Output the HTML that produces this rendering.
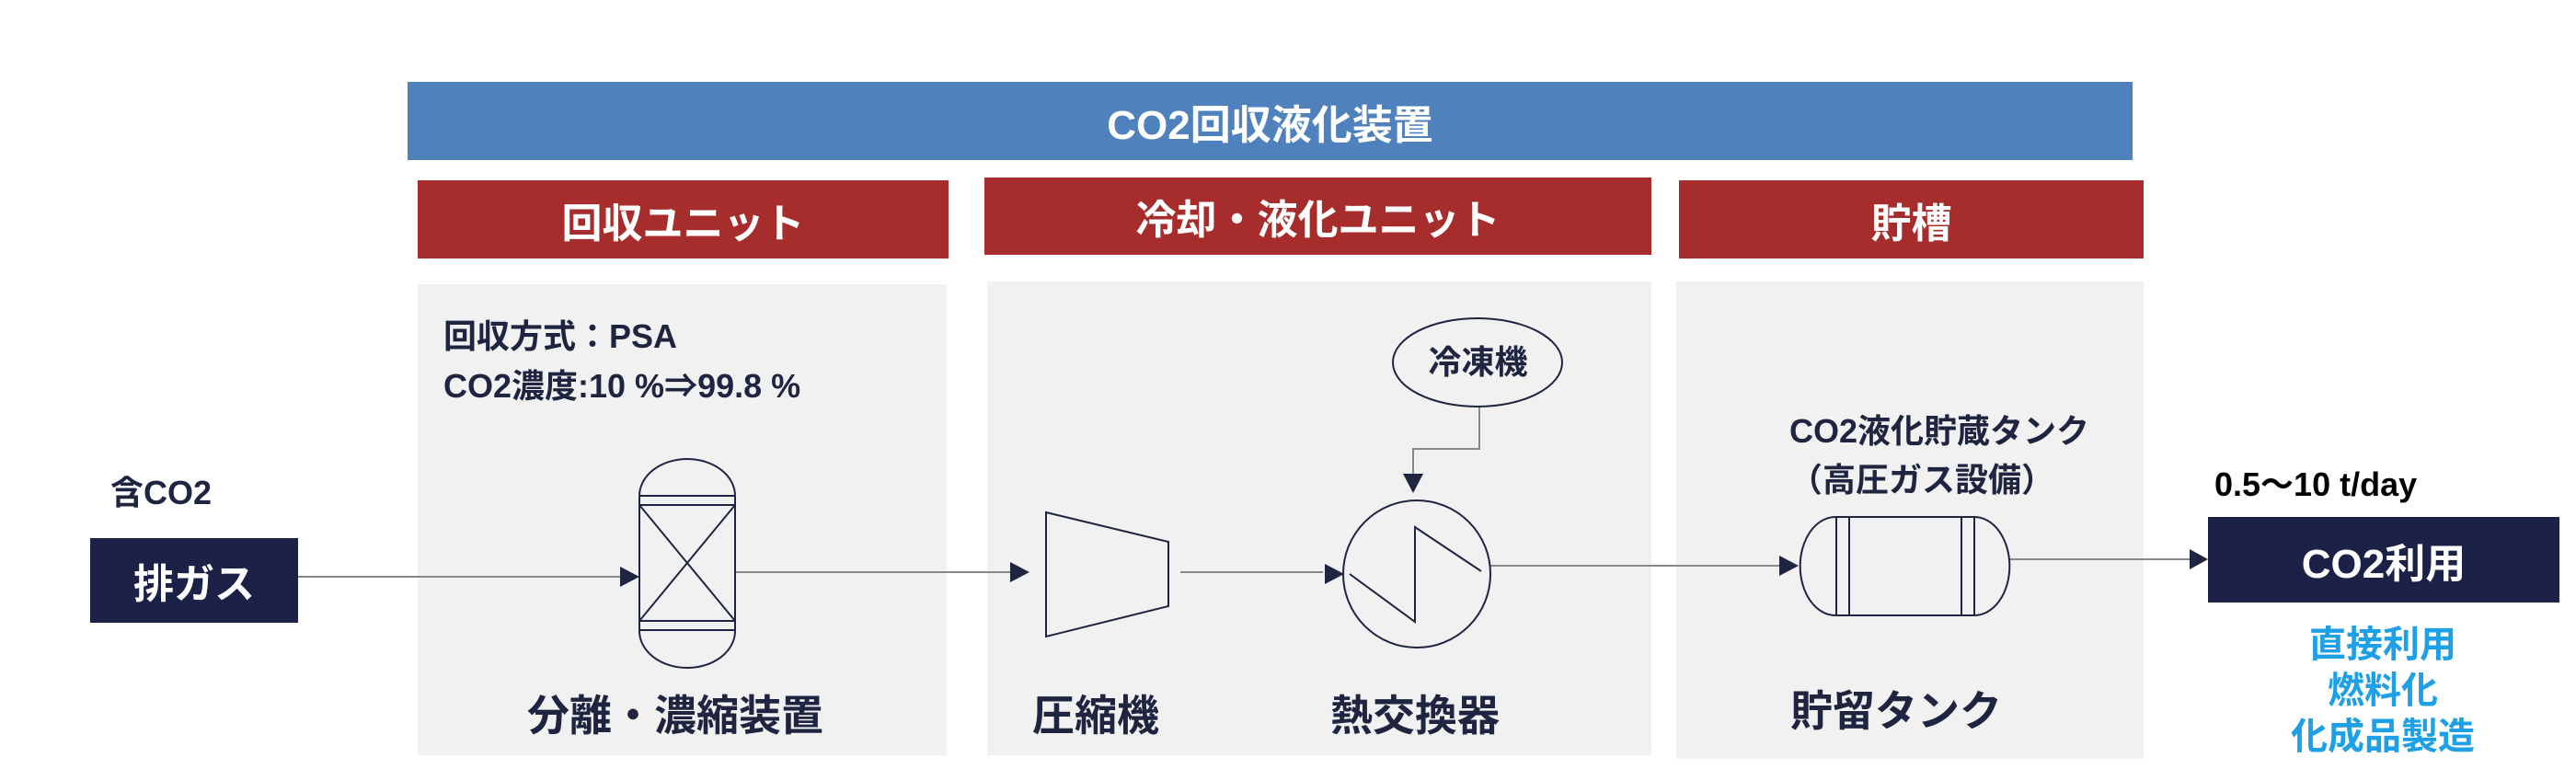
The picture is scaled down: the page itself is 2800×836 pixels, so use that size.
<!DOCTYPE html>
<html><head><meta charset="utf-8"><style>
body{margin:0;width:2800px;height:836px;background:#fff;overflow:hidden;position:relative;font-family:"Liberation Sans","Noto Sans CJK JP",sans-serif;font-weight:bold;color:#1f2540}
.a{position:absolute}
.c{display:flex;align-items:center;justify-content:center;color:#fff}
.t{position:absolute;white-space:nowrap;line-height:1}
</style></head><body>
<div class="a c" style="left:443px;top:89px;width:1875px;height:85px;background:#4f81bd;font-size:44px">CO2回収液化装置</div>
<div class="a c" style="left:454px;top:196px;width:577px;height:85px;background:#a62d2b;font-size:44px">回収ユニット</div>
<div class="a c" style="left:1070px;top:193px;width:725px;height:84px;background:#a62d2b;font-size:44px">冷却・液化ユニット</div>
<div class="a c" style="left:1825px;top:196px;width:505px;height:85px;background:#a62d2b;font-size:44px">貯槽</div>
<div class="a" style="left:454px;top:309px;width:575px;height:512px;background:#f1f1f1"></div>
<div class="a" style="left:1073px;top:306px;width:722px;height:515px;background:#f1f1f1"></div>
<div class="a" style="left:1822px;top:306px;width:508px;height:519px;background:#f1f1f1"></div>
<div class="t" style="left:482px;top:348px;font-size:36px">回収方式：PSA</div>
<div class="t" style="left:482px;top:402px;font-size:36px">CO2濃度:10 %⇒99.8 %</div>
<div class="t" style="left:120px;top:518px;font-size:36px">含CO2</div>
<div class="a c" style="left:98px;top:585px;width:226px;height:92px;background:#1c2147;font-size:44px">排ガス</div>
<div class="a c" style="left:2400px;top:562px;width:382px;height:93px;background:#1c2147;font-size:44px">CO2利用</div>
<div class="t" style="left:2407px;top:509px;font-size:36px;color:#000">0.5〜10 t/day</div>
<div class="t" style="left:2480px;top:676px;width:220px;text-align:center;font-size:40px;color:#1ea0e6;line-height:50px">直接利用<br>燃料化<br>化成品製造</div>
<div class="t" style="left:1945px;top:442px;width:250px;text-align:center;font-size:36px;line-height:53px">CO2液化貯蔵タンク<br>（高圧ガス設備）</div>
<div class="t" style="left:573px;top:755px;font-size:46px">分離・濃縮装置</div>
<div class="t" style="left:1122px;top:755px;font-size:46px">圧縮機</div>
<div class="t" style="left:1446px;top:755px;font-size:46px">熱交換器</div>
<div class="t" style="left:1946px;top:750px;font-size:46px">貯留タンク</div>
<div class="t" style="left:1514px;top:376px;width:185px;text-align:center;font-size:36px">冷凍機</div>
<svg class="a" style="left:0;top:0" width="2800" height="836">
<g fill="none" stroke="#1f2540" stroke-width="2">
<line x1="324" y1="627" x2="686" y2="627" stroke="#888"/>
<line x1="799" y1="622" x2="1107" y2="622" stroke="#888"/>
<line x1="1283" y1="622" x2="1438" y2="622" stroke="#888"/>
<line x1="1620" y1="615" x2="1943" y2="615" stroke="#888"/>
<line x1="2184" y1="608" x2="2388" y2="608" stroke="#888"/>
<polyline points="1608,442 1608,488 1536,488 1536,522" stroke="#888"/>
<path d="M695,539 A52,40 0 0 1 799,539 L799,686 A52,40 0 0 1 695,686 Z"/>
<line x1="695" y1="539" x2="799" y2="539"/><line x1="695" y1="549" x2="799" y2="549"/>
<line x1="695" y1="675" x2="799" y2="675"/><line x1="695" y1="685" x2="799" y2="685"/>
<line x1="695" y1="549" x2="799" y2="675"/><line x1="799" y1="549" x2="695" y2="675"/>
<polygon points="1137,557 1270,589 1270,659 1137,692"/>
<circle cx="1540" cy="624" r="80"/>
<polyline points="1467,624 1538,676 1538,573 1610,621"/>
<ellipse cx="1606" cy="394" rx="92" ry="48"/>
<path d="M1995,562 L2146,562 A38,53 0 0 1 2146,669 L1995,669 A38,53 0 0 1 1995,562 Z"/>
<line x1="1996" y1="562" x2="1996" y2="669"/><line x1="2010" y1="562" x2="2010" y2="669"/>
<line x1="2132" y1="562" x2="2132" y2="669"/><line x1="2146" y1="562" x2="2146" y2="669"/>
</g>
<g fill="#1f2540">
<polygon points="674,616 695,627 674,638"/>
<polygon points="1098,611 1119,622 1098,633"/>
<polygon points="1440,613 1461,624 1440,635"/>
<polygon points="1934,604 1955,615 1934,626"/>
<polygon points="2380,597 2400,608 2380,619"/>
<polygon points="1525,515 1547,515 1536,536"/>
</g>
</svg>
</body></html>
